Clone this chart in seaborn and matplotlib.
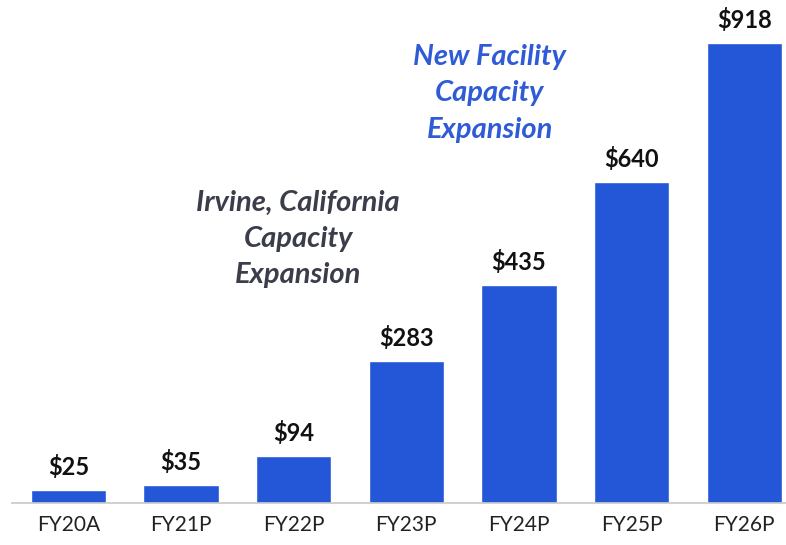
import pandas as pd
import numpy as np
import matplotlib.pyplot as plt
import seaborn as sns

# Data
years = ['FY20A', 'FY21P', 'FY22P', 'FY23P', 'FY24P', 'FY25P', 'FY26P']
values = [25, 35, 94, 283, 435, 640, 918]
value_labels = ['$25', '$35', '$94', '$283', '$435', '$640', '$918']

sns.set_theme(style='white')
plt.rcParams['font.family'] = ['Lato', 'DejaVu Sans']

bar_color = '#2457D8'

fig = plt.figure(figsize=(7.86, 5.45), dpi=100)
ax = fig.add_axes([0.0153, 0.0771, 0.9847, 0.9229])

df = pd.DataFrame({'year': years, 'value': values})
sns.barplot(data=df, x='year', y='value', color=bar_color, saturation=1,
            width=0.67, ax=ax)

ax.bar_label(ax.containers[0], labels=value_labels, padding=8,
             fontsize=17, fontweight='bold', color='#111111')

ax.set_xlim(-0.5, 6.37)
ax.set_ylim(0, 1004)
ax.set_xlabel('')
ax.set_ylabel('')
ax.set_yticks([])
ax.tick_params(axis='x', length=0, pad=9, labelsize=15, labelcolor='#222222')

for side in ['top', 'right', 'left']:
    ax.spines[side].set_visible(False)
ax.spines['bottom'].set_color('#c8c8c8')
ax.spines['bottom'].set_linewidth(1.2)

# Annotations
ax.text(2.04, 527, 'Irvine, California\nCapacity\nExpansion', ha='center', va='center',
        fontsize=21, fontweight='bold', fontstyle='italic', color='#3b3e4a',
        linespacing=1.5)
ax.text(3.74, 818, 'New Facility\nCapacity\nExpansion', ha='center', va='center',
        fontsize=21, fontweight='bold', fontstyle='italic', color='#2f5bd6',
        linespacing=1.5)

fig.savefig('out.png', dpi=100)
